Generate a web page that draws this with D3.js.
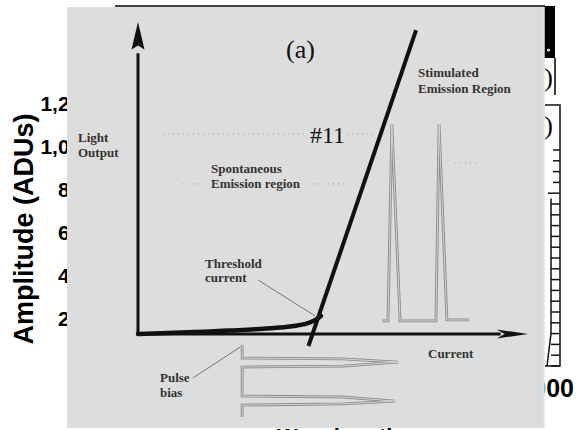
<!DOCTYPE html>
<html>
<head>
<meta charset="utf-8">
<script src="https://cdnjs.cloudflare.com/ajax/libs/d3/7.8.5/d3.min.js"></script>
<style>
  body { margin: 0; background: #fff; }
  svg { display: block; }
</style>
</head>
<body>
<div id="chart"></div>
<script>
// ---- spectrum plot underneath (mostly covered by the pasted diagram) ----
var ampTicks = [200, 400, 600, 800, 1000, 1200];
var ampTitle = "Amplitude (ADUs)";
var bottomTitle = "Wavelength";
var cornerTick = "1000";
var panelMarks = ["(b)", "(c)"];
var rulerTicks = [0, 1, 2, 3, 4, 5, 6, 7, 8, 9, 10, 11, 12, 13, 14, 15, 16, 17, 18, 19, 20];
var rulerMajor = [16];

// ---- laser diode diagram (current / light output in % of axis) ----
var lightCurve = [[0, 0], [23.6, 1.1], [39, 2.4], [43.6, 3.5], [45.6, 4.6], [46.9, 5.8]];
var slopeLine = [[43.7, -3.85], [71.3, 97.4]];
var outputPulses = [[62.6, 4.2], [64.1, 4.2], [65.1, 67.3], [67.2, 4.2], [76.4, 4.2],
                    [77.2, 67.3], [79.2, 4.5], [84.9, 4.5]];
var biasPulses = [[26.7, -3.5], [26.7, -7.7], [52.6, -8.0], [66.7, -9.0], [52.6, -10.3],
                  [26.7, -10.6], [26.7, -19.9], [52.6, -20.2], [65.9, -21.5], [52.6, -22.4],
                  [26.7, -22.8], [26.7, -26.6]];
var thresholdLeader = [[30.8, 17.3], [45.4, 5.8]];
var biasLeader = [[14.1, -14.1], [26.2, -4.2]];
var gridDots = [
  [[6.4, 64.1], [42.8, 64.1]],
  [[53.6, 64.1], [60.3, 64.1]],
  [[43.6, 48.1], [55.1, 48.1]],
  [[11.5, 48.1], [16, 48.1]],
  [[81.3, 54.8], [87.7, 54.8]]
];
var diagramLabels = [
  { text: "(a)", x: 286, y: 58, size: 26, bold: false },
  { text: "#11", x: 310, y: 143, size: 24, bold: false },
  { text: "Stimulated", x: 418, y: 77, size: 13, bold: true },
  { text: "Emission Region", x: 418, y: 93, size: 13, bold: true },
  { text: "Light", x: 78, y: 142, size: 13, bold: true },
  { text: "Output", x: 78, y: 157, size: 13, bold: true },
  { text: "Spontaneous", x: 211, y: 173, size: 13, bold: true },
  { text: "Emission region", x: 211, y: 188, size: 13, bold: true },
  { text: "Threshold", x: 205, y: 268, size: 13, bold: true },
  { text: "current", x: 205, y: 282, size: 13, bold: true },
  { text: "Current", x: 428, y: 358, size: 13, bold: true },
  { text: "Pulse", x: 160, y: 382, size: 13, bold: true },
  { text: "bias", x: 160, y: 397, size: 13, bold: true }
];

var width = 576, height = 430;
var sans = "'Liberation Sans', Arial, sans-serif";
var serif = "'Liberation Serif', 'Times New Roman', serif";

var svg = d3.select("#chart").append("svg")
    .attr("width", width)
    .attr("height", height);

svg.append("rect").attr("width", width).attr("height", height).attr("fill", "#fff");

// clip regions: the parts of the old plot that peek out round the pasted figure
var defs = svg.append("defs");
defs.append("clipPath").attr("id", "clipLeft")
    .append("rect").attr("x", 0).attr("y", 0).attr("width", 67).attr("height", height);
defs.append("clipPath").attr("id", "clipRight")
    .append("rect").attr("x", 544).attr("y", 0).attr("width", 32).attr("height", height);
defs.append("clipPath").attr("id", "clipBottom")
    .append("rect").attr("x", 0).attr("y", 428).attr("width", width).attr("height", 2);

//---------------- underlying plot ----------------
var ampY = d3.scaleLinear().domain([200, 1200]).range([318, 103]);

svg.append("g").attr("clip-path", "url(#clipLeft)").selectAll("text")
    .data(ampTicks)
    .enter().append("text")
    .attr("x", 93)
    .attr("y", function(d) { return ampY(d); })
    .attr("dy", "0.36em")
    .attr("text-anchor", "end")
    .style("font", "bold 21px " + sans)
    .text(d3.format(","));

svg.append("text")
    .attr("transform", "translate(33,229) rotate(-90)")
    .attr("text-anchor", "middle")
    .style("font", "bold 27px " + sans)
    .text(ampTitle);

svg.append("g").attr("clip-path", "url(#clipBottom)").append("text")
    .attr("x", 277).attr("y", 444)
    .style("font", "bold 22px " + sans)
    .text(bottomTitle);

svg.append("g").attr("clip-path", "url(#clipRight)").append("text")
    .attr("x", 574).attr("y", 397)
    .attr("text-anchor", "end")
    .style("font", "bold 25px " + sans)
    .text(cornerTick);

// top-right panel pieces
svg.append("line").attr("x1", 115).attr("x2", 545).attr("y1", 6).attr("y2", 6)
    .attr("stroke", "#000").attr("stroke-width", 1.6);
svg.append("rect").attr("x", 544).attr("y", 6).attr("width", 11).attr("height", 52).attr("fill", "#000");
svg.append("circle").attr("cx", 548.5).attr("cy", 50).attr("r", 1.6).attr("fill", "#ddd");
svg.append("line").attr("x1", 555).attr("x2", 555).attr("y1", 58).attr("y2", 95)
    .attr("stroke", "#000").attr("stroke-width", 1.5);

svg.append("g").attr("clip-path", "url(#clipRight)").selectAll(".pmark")
    .data(panelMarks)
    .enter().append("text")
    .attr("class", "pmark")
    .attr("x", 553)
    .attr("y", function(d, i) { return 86 + i * 48; })
    .attr("text-anchor", "end")
    .style("font", "26px " + serif)
    .text(function(d) { return d; });

// ruler on the right
var rulerY = d3.scaleLinear().domain([0, 20]).range([366, 150]);
var ruler = svg.append("g").attr("stroke", "#111").attr("stroke-width", 1.5).attr("fill", "none");
ruler.append("path").attr("d", "M545,105H560V366H545");
ruler.append("path").attr("d", "M551," + rulerY(15.5) + "V" + rulerY(3) + "L547," + rulerY(0));
ruler.selectAll("line")
    .data(rulerTicks)
    .enter().append("line")
    .attr("x1", function(d) { return rulerMajor.indexOf(d) >= 0 ? 548 : (d < 16 ? 551 : 553); })
    .attr("x2", 560)
    .attr("y1", function(d) { return rulerY(d); })
    .attr("y2", function(d) { return rulerY(d); });

//---------------- pasted diagram ----------------
svg.append("rect").attr("x", 67).attr("y", 7).attr("width", 477).attr("height", 421).attr("fill", "#dddddd");
svg.append("line").attr("x1", 544).attr("x2", 544).attr("y1", 7).attr("y2", 428)
    .attr("stroke", "#d2eaea").attr("stroke-width", 1.5);

var xD = d3.scaleLinear().domain([0, 100]).range([138, 528]);
var yD = d3.scaleLinear().domain([0, 100]).range([334, 22]);
var line = d3.line().x(function(d) { return xD(d[0]); }).y(function(d) { return yD(d[1]); });
var dg = svg.append("g");

// faint dotted grid remnants
dg.selectAll(".dots")
    .data(gridDots)
    .enter().append("path")
    .attr("class", "dots")
    .attr("d", line)
    .attr("stroke", "#9a9a9a")
    .attr("stroke-width", 1)
    .attr("stroke-dasharray", "1,4")
    .attr("fill", "none");

// double-stroked gray pulse trains
function doubleLine(pts) {
    dg.append("path").attr("d", line(pts)).attr("fill", "none")
        .attr("stroke", "#8c8c8c").attr("stroke-width", 2.8).attr("stroke-miterlimit", 12);
    dg.append("path").attr("d", line(pts)).attr("fill", "none")
        .attr("stroke", "#dcdcdc").attr("stroke-width", 0.9).attr("stroke-miterlimit", 12);
}
doubleLine(outputPulses);
doubleLine(biasPulses);

// leaders
[thresholdLeader, biasLeader].forEach(function(pts) {
    dg.append("path").attr("d", line(pts)).attr("stroke", "#777").attr("stroke-width", 1).attr("fill", "none");
});

// axes with arrows
dg.append("line")
    .attr("x1", xD(0)).attr("x2", xD(0)).attr("y1", yD(0) + 1).attr("y2", yD(90))
    .attr("stroke", "#111").attr("stroke-width", 3);
dg.append("path")
    .attr("d", "M" + xD(0) + "," + yD(100) + "L" + (xD(0) + 6.5) + "," + (yD(91.5) + 1) +
               "L" + xD(0) + "," + yD(92.5) + "L" + (xD(0) - 6.5) + "," + (yD(91.5) + 1) + "Z")
    .attr("fill", "#111");
dg.append("line")
    .attr("x1", xD(0)).attr("x2", xD(93)).attr("y1", yD(0)).attr("y2", yD(0))
    .attr("stroke", "#111").attr("stroke-width", 3);
dg.append("path")
    .attr("d", "M" + xD(100) + "," + yD(0) + "L" + xD(92) + "," + (yD(0) - 4.5) +
               "L" + xD(94) + "," + yD(0) + "L" + xD(92) + "," + (yD(0) + 4.5) + "Z")
    .attr("fill", "#111");

// light-current characteristic
dg.append("path")
    .attr("d", d3.line().x(function(d) { return xD(d[0]); }).y(function(d) { return yD(d[1]); })
        .curve(d3.curveCatmullRom)(lightCurve))
    .attr("stroke", "#111").attr("stroke-width", 4.5).attr("fill", "none").attr("stroke-linecap", "round");
dg.append("path")
    .attr("d", line(slopeLine))
    .attr("stroke", "#111").attr("stroke-width", 4).attr("fill", "none");

// labels
dg.selectAll(".lbl")
    .data(diagramLabels)
    .enter().append("text")
    .attr("class", "lbl")
    .attr("x", function(d) { return d.x; })
    .attr("y", function(d) { return d.y; })
    .attr("fill", function(d) { return d.bold ? "#333" : "#111"; })
    .style("font-family", serif)
    .style("font-weight", function(d) { return d.bold ? "bold" : "normal"; })
    .style("font-size", function(d) { return d.size + "px"; })
    .text(function(d) { return d.text; });
</script>
</body>
</html>
